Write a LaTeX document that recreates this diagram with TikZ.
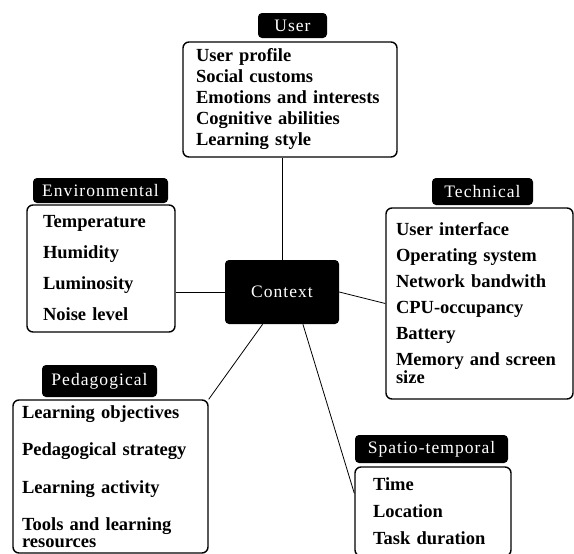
\documentclass[tikz,border=0pt]{standalone}
\usepackage{fontspec}
\setmainfont{Liberation Serif}
\newfontfamily\headfont[LetterSpace=6]{Liberation Serif}
\newcommand{\itemfont}{\bfseries\fontsize{18.5}{18}\selectfont\hyphenpenalty=10000}
\newcommand{\headsize}{\headfont\fontsize{17.5}{20}\selectfont}

\begin{document}
\begin{tikzpicture}[x=1pt,y=-1pt]
\tikzstyle{head}=[rectangle,fill=black,rounded corners=4pt,text=white,font=\headsize,inner sep=0pt]
\tikzstyle{group}=[rectangle,draw,line width=1.4pt,rounded corners=6pt,align=left,inner ysep=0pt,font=\itemfont]
\tikzstyle{link}=[line width=0.8pt]
\useasboundingbox (0,0) rectangle (574,554);

\node[head,minimum width=114pt,minimum height=64pt](C) at (282,292) {Context};

\node[head,minimum width=69pt,minimum height=25pt](Uh) at (292.5,25.5) {User};
\node[group,text width=188pt,inner xsep=13pt,minimum height=115pt](U) at (290,99.5) {User profile\\[3pt] Social customs\\[3pt] Emotions and interests\\[3pt] Cognitive abilities\\[3pt] Learning style};

\node[head,minimum width=135pt,minimum height=25pt](Eh) at (100.5,190.5) {Environmental};
\node[group,text width=116pt,inner xsep=16pt,minimum height=127pt](E) at (101,268.5) {Temperature\\[13pt] Humidity\\[13pt] Luminosity\\[13pt] Noise level};

\node[head,minimum width=101pt,minimum height=27pt](Th) at (482.5,191.5) {Technical};
\node[group,text width=167pt,inner xsep=10pt,minimum height=191pt](T) at (479.5,303.5) {User interface\\[8pt] Operating system\\[8pt] Network bandwith\\[8pt] CPU-occupancy\\[8pt] Battery\\[8pt] Memory and screen\\ size};

\node[head,minimum width=115pt,minimum height=32pt](Ph) at (99.5,381) {Pedagogical};
\node[group,text width=177pt,inner xsep=9pt,minimum height=153pt](P) at (110.5,476.5) {Learning objectives\\[19.5pt] Pedagogical strategy\\[19.5pt] Learning activity\\[19.5pt] Tools and learning\\[-1pt] resources};

\node[head,minimum width=153pt,minimum height=28pt](Sh) at (431.5,449) {Spatio-temporal};
\node[group,text width=120pt,inner xsep=18pt,minimum height=89pt](S) at (433,511.5) {Time\\[9pt] Location\\[9pt] Task duration};

\draw[link] (C.north) -- (C.north |- U.south);
\draw[link] (C.west) -- (C.west -| E.east);
\draw[link] (C.east) -- (T.west);
\draw[link] (C.-121) -- (P.north east);
\draw[link] (C.-57) -- (S.167);
\end{tikzpicture}
\end{document}
